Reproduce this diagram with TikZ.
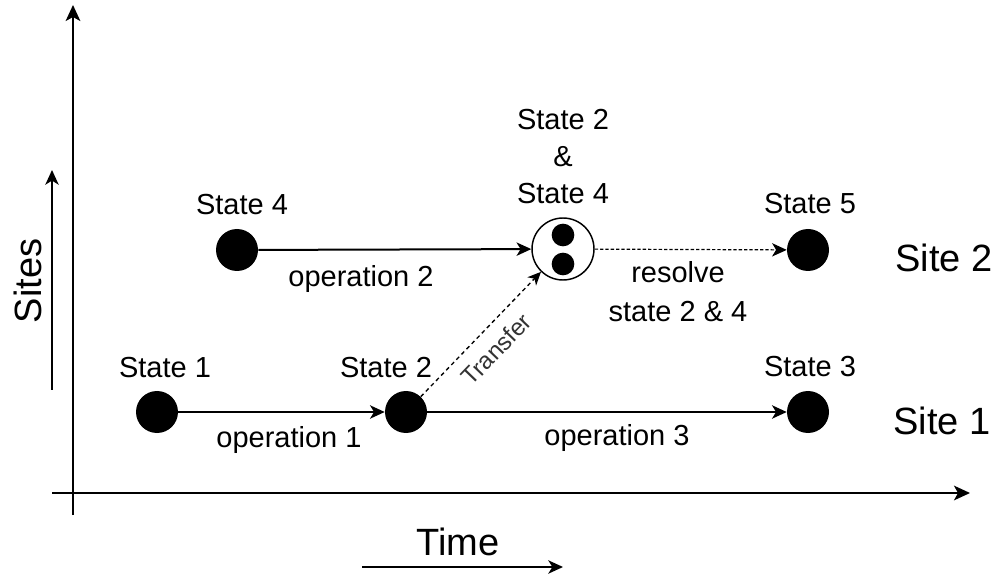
\documentclass[tikz,border=0pt]{standalone}
\usepackage{fontspec}
\setmainfont{Liberation Sans}
\usetikzlibrary{arrows.meta}
\begin{document}
\begin{tikzpicture}[x=0.75pt,y=-0.75pt,
  every node/.style={font=\fontsize{21.75pt}{27.4pt}\selectfont},
  dot/.style={circle,fill=black,inner sep=0pt,minimum size=31.5pt},
  merged/.style={circle,draw=black,line width=1.1pt,fill=white,inner sep=0pt,minimum size=46.5pt},
  subdot/.style={circle,fill=black,inner sep=0pt,minimum size=17pt},
  lbl/.style={anchor=base,inner sep=0pt},
  big/.style={inner sep=0pt,font=\fontsize{28.5pt}{34pt}\selectfont},
  axis/.style={line width=1.5pt,-{Stealth[length=12pt,width=11pt,inset=3pt]}},
  flow/.style={line width=1.5pt,-{Stealth[length=11pt,width=10pt,inset=3pt]}},
  guide/.style={line width=1.3pt,-{Stealth[length=11pt,width=10pt,inset=3pt]}},
]
\useasboundingbox (0,0) rectangle (1000,577);

% axes
\coordinate (yb) at (73,515);  \coordinate (yt) at (73,5);
\coordinate (xb) at (52,493);  \coordinate (xt) at (970,493);
\draw[axis] (yb) -- (yt);
\draw[axis] (xb) -- (xt);

% axis captions with their direction arrows
\coordinate (sb) at (52,390);  \coordinate (st) at (52,170);
\coordinate (tb) at (362,567); \coordinate (tt) at (563,567);
\draw[guide] (sb) -- (st);
\draw[guide] (tb) -- (tt);
\node[big,rotate=90] (sites) at (28,281) {Sites};
\node[big,anchor=base] (time) at (458,555) {Time};

% states
\node[dot] (s1) at (157,412) {};
\node[dot] (s2) at (406,412) {};
\node[dot] (s3) at (808,412) {};
\node[dot] (s4) at (237,250) {};
\node[dot] (s5) at (808,250) {};
\node[merged] (m) at (563,249) {};
\node[subdot] (ma) at (563,235) {};
\node[subdot] (mb) at (563,264) {};

% state labels
\node[lbl] (l1) at (165,378) {State 1};
\node[lbl] (l2) at (386,378) {State 2};
\node[lbl] (l3) at (810,377) {State 3};
\node[lbl] (l4) at (242,215) {State 4};
\node[lbl] (l5) at (810,214) {State 5};
\node[inner sep=0pt,align=center] (lm) at (563,156.5) {State 2\\\&\\State 4};

% site labels
\node[big,anchor=base] (site2) at (944,272) {Site 2};
\node[big,anchor=base] (site1) at (942,435) {Site 1};

% operations
\draw[flow] (s1) -- (s2);
\draw[flow] (s2) -- (s3);
\draw[flow] (s4) -- (m);
\draw[line width=0.9pt,dash pattern=on 2.5pt off 1.5pt,
      -{Stealth[length=11pt,width=10pt,inset=3pt]}] (m) -- (s5);
\draw[line width=1pt,dash pattern=on 3pt off 2.5pt,
      -{Stealth[length=10pt,width=9pt,inset=3pt]}] (s2) -- (m)
  node[midway,sloped,below,inner sep=9pt,text=black!80,
       font=\fontsize{18pt}{20pt}\selectfont] (tr) {Transfer};

\node[lbl] (o1) at (289,447) {operation 1};
\node[lbl] (o2) at (361,287) {operation 2};
\node[lbl] (o3) at (617,445) {operation 3};
% the base anchor of a two-line node sits on its last line
\node[inner sep=0pt,align=center,anchor=base,
      font=\fontsize{21.75pt}{29.25pt}\selectfont] (rs) at (678,322) {resolve\\state 2 \& 4};
\end{tikzpicture}
\end{document}
